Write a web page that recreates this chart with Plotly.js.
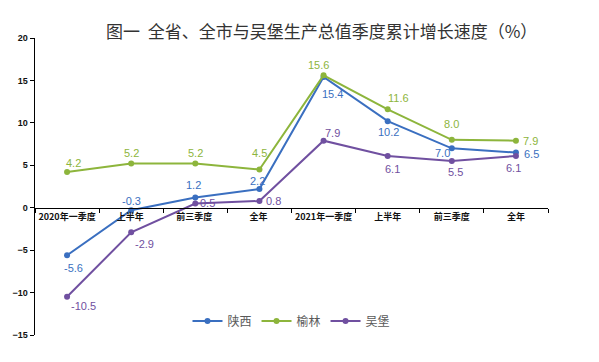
<!DOCTYPE html>
<html>
<head>
<meta charset="utf-8">
<script src="https://cdn.plot.ly/plotly-3.0.1.min.js"></script>
<style>html,body{margin:0;padding:0;background:#fff;}#chart{width:599px;height:362px;}</style>
</head>
<body>
<div id="chart"></div>
<script>
const categories = ['2020年一季度','上半年 ','前三季度 ','全年 ','2021年一季度','上半年','前三季度','全年'];
const shaanxi = [-5.6, -0.3, 1.2, 2.2, 15.4, 10.2, 7.0, 6.5];
const yulin = [4.2, 5.2, 5.2, 4.5, 15.6, 11.6, 8.0, 7.9];
const wubao = [-10.5, -2.9, 0.5, 0.8, 7.9, 6.1, 5.5, 6.1];
const seriesNames = ['陕西','榆林','吴堡'];
const colors = ['#3a6fc0','#8db53c','#7050a0'];
// label offsets (px) relative to each point: [dx, dy(up)]
const labelShift = [
  [[6,-13],[0,9],[-2,13],[-2,8],[9,-17],[1,-11],[-9,-5],[16,-1]],
  [[6,9],[0,11],[0,11],[0,17],[-5,10],[11,11],[0,16],[15,0]],
  [[16,-9],[13,-12],[12,0],[14,0],[9,8],[5,-13],[4,-11],[-2,-12]]
];
const values = [shaanxi, yulin, wubao];
const fmt = v => v.toFixed(1);
const traces = [];
values.forEach((vals, i) => {
  traces.push({
    x: categories, y: vals, name: seriesNames[i], type: 'scatter', mode: 'lines+markers',
    line: {color: colors[i], width: 2}, marker: {color: colors[i], size: 6},
    hoverinfo: 'skip', cliponaxis: false
  });
});
const annotations = [];
values.forEach((vals, i) => {
  vals.forEach((v, j) => {
    annotations.push({
      x: categories[j], y: v, xref: 'x', yref: 'y', text: fmt(v), showarrow: false,
      xshift: labelShift[i][j][0], yshift: labelShift[i][j][1],
      font: {family: 'Liberation Sans, Arial, sans-serif', size: 11, color: colors[i]}
    });
  });
});
const layout = {
  width: 599, height: 362,
  margin: {l: 35, r: 51, t: 38, b: 27},
  paper_bgcolor: '#fff', plot_bgcolor: '#fff',
  title: {text: '图一  全省、全市与吴堡生产总值季度累计增长速度（%）', x: 0.537, xanchor: 'center', y: 0.912, yanchor: 'middle',
    font: {family: 'Noto Sans CJK SC', size: 17, color: '#333'}},
  showlegend: true,
  legend: {orientation: 'h', x: 0.5, xanchor: 'center', y: 0.047, yanchor: 'middle',
    font: {family: 'Noto Sans CJK SC', size: 12, color: '#595959'}, bgcolor: 'rgba(0,0,0,0)', itemwidth: 30},
  annotations: annotations,
  xaxis: {type: 'category', anchor: 'free', position: 15/35, range: [-0.5, 7.5],
    showline: true, linecolor: '#000', linewidth: 1.5, ticks: 'outside', tickson: 'boundaries', ticklen: 4, tickcolor: '#000',
    tickangle: 0, showgrid: false, zeroline: false, fixedrange: true,
    tickfont: {family: 'Noto Sans CJK SC', size: 9, color: '#111', weight: 'bold'}},
  yaxis: {range: [-15, 20], dtick: 5, showline: true, linecolor: '#000', linewidth: 1.5, ticks: 'outside', ticklen: 4, tickcolor: '#000',
    showgrid: false, zeroline: false, fixedrange: true,
    tickfont: {family: 'Liberation Sans, Arial', size: 9, color: '#111', weight: 'bold'}}
};
Plotly.newPlot('chart', traces, layout, {displayModeBar: false, staticPlot: true});
</script>
</body>
</html>
